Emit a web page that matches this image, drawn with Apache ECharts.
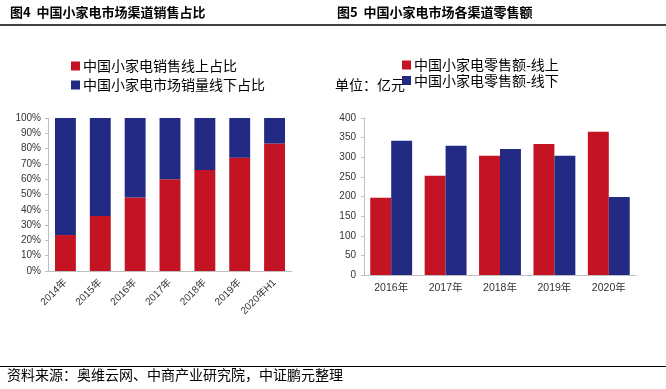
<!DOCTYPE html>
<html>
<head>
<meta charset="utf-8">
<script src="https://cdn.jsdelivr.net/npm/echarts@6/dist/echarts.min.js"></script>
<style>html,body{margin:0;padding:0;background:#fff}#c{width:666px;height:389px}</style>
</head>
<body>
<div id="c"></div>
<script>
// Figure 4 data
var shareCategories = ['2014年', '2015年', '2016年', '2017年', '2018年', '2019年', '2020年H1'];
var shareOnline = [23.5, 36, 48, 60, 66, 74, 83.3];
var shareOffline = [76.5, 64, 52, 40, 34, 26, 16.7];
var shareSeriesNames = ['中国小家电销售线上占比', '中国小家电市场销量线下占比'];

// Figure 5 data
var retailCategories = ['2016年', '2017年', '2018年', '2019年', '2020年'];
var retailOnline = [197, 253, 304, 334, 365];
var retailOffline = [342, 329, 321, 304, 199];
var retailSeriesNames = ['中国小家电零售额-线上', '中国小家电零售额-线下'];

var RED = '#C41323';
var BLUE = '#232A83';
var CJK = '"Noto Sans CJK SC", sans-serif';
var NUM = '"Liberation Sans", "Noto Sans CJK SC", sans-serif';

var chart = echarts.init(document.getElementById('c'), null, {renderer: 'canvas'});

var axisLineStyle = {show: true, lineStyle: {color: '#BFBFBF', width: 1}};
var labelBase = {color: '#333', fontFamily: NUM, fontSize: 10};

chart.setOption({
  animation: false,
  backgroundColor: '#fff',
  textStyle: {fontFamily: CJK},
  graphic: [
    {type: 'text', left: 10, top: 6, style: {text: '图4  中国小家电市场渠道销售占比', fontFamily: CJK, fontSize: 13, fontWeight: 'bold', fill: '#000'}},
    {type: 'text', left: 337, top: 6, style: {text: '图5  中国小家电市场各渠道零售额', fontFamily: CJK, fontSize: 13, fontWeight: 'bold', fill: '#000'}},
    {type: 'line', shape: {x1: 0, y1: 25, x2: 666, y2: 25}, style: {stroke: '#000', lineWidth: 1.5}},
    {type: 'line', shape: {x1: 0, y1: 366.5, x2: 666, y2: 366.5}, style: {stroke: '#000', lineWidth: 1}},
    {type: 'text', left: 7, top: 368, style: {text: '资料来源：奥维云网、中商产业研究院，中证鹏元整理', fontFamily: CJK, fontSize: 14, fill: '#000'}},
    {type: 'text', left: 335, top: 78, style: {text: '单位：亿元', fontFamily: CJK, fontSize: 14, fill: '#000'}}
  ],
  legend: [
    {
      data: shareSeriesNames, orient: 'vertical', left: 66, top: 54,
      itemWidth: 9, itemHeight: 9, itemGap: 5, icon: 'rect',
      textStyle: {fontFamily: CJK, fontSize: 14, color: '#000', padding: [0, 0, 0, -2]}
    },
    {
      data: retailSeriesNames, orient: 'vertical', left: 397, top: 53,
      itemWidth: 9, itemHeight: 9, itemGap: 1.5, icon: 'rect',
      textStyle: {fontFamily: CJK, fontSize: 14, color: '#000', padding: [0, 0, 0, -2]}
    }
  ],
  grid: [
    {left: 48, top: 118, width: 244, height: 153},
    {left: 364, top: 118, width: 272, height: 157}
  ],
  xAxis: [
    {
      type: 'category', gridIndex: 0, data: shareCategories,
      axisLine: axisLineStyle, axisTick: {show: false},
      axisLabel: Object.assign({}, labelBase, {rotate: 45, margin: 10, interval: 0})
    },
    {
      type: 'category', gridIndex: 1, data: retailCategories,
      axisLine: axisLineStyle, axisTick: {show: false},
      axisLabel: Object.assign({}, labelBase, {fontSize: 10.5, margin: 8, interval: 0})
    }
  ],
  yAxis: [
    {
      type: 'value', gridIndex: 0, min: 0, max: 100, interval: 10,
      axisLine: axisLineStyle, axisTick: {show: true, length: 3, lineStyle: {color: '#BFBFBF'}},
      splitLine: {show: false},
      axisLabel: Object.assign({}, labelBase, {margin: 7, formatter: '{value}%'})
    },
    {
      type: 'value', gridIndex: 1, min: 0, max: 400, interval: 50,
      axisLine: axisLineStyle, axisTick: {show: true, length: 3, lineStyle: {color: '#BFBFBF'}},
      splitLine: {show: false},
      axisLabel: Object.assign({}, labelBase, {margin: 8})
    }
  ],
  series: [
    {name: shareSeriesNames[0], type: 'bar', stack: 's', xAxisIndex: 0, yAxisIndex: 0, data: shareOnline, itemStyle: {color: RED}, barCategoryGap: '40%'},
    {name: shareSeriesNames[1], type: 'bar', stack: 's', xAxisIndex: 0, yAxisIndex: 0, data: shareOffline, itemStyle: {color: BLUE}, barCategoryGap: '40%'},
    {name: retailSeriesNames[0], type: 'bar', xAxisIndex: 1, yAxisIndex: 1, data: retailOnline, itemStyle: {color: RED}, barGap: '0%', barCategoryGap: '23%'},
    {name: retailSeriesNames[1], type: 'bar', xAxisIndex: 1, yAxisIndex: 1, data: retailOffline, itemStyle: {color: BLUE}, barGap: '0%', barCategoryGap: '23%'}
  ]
});
</script>
</body>
</html>
